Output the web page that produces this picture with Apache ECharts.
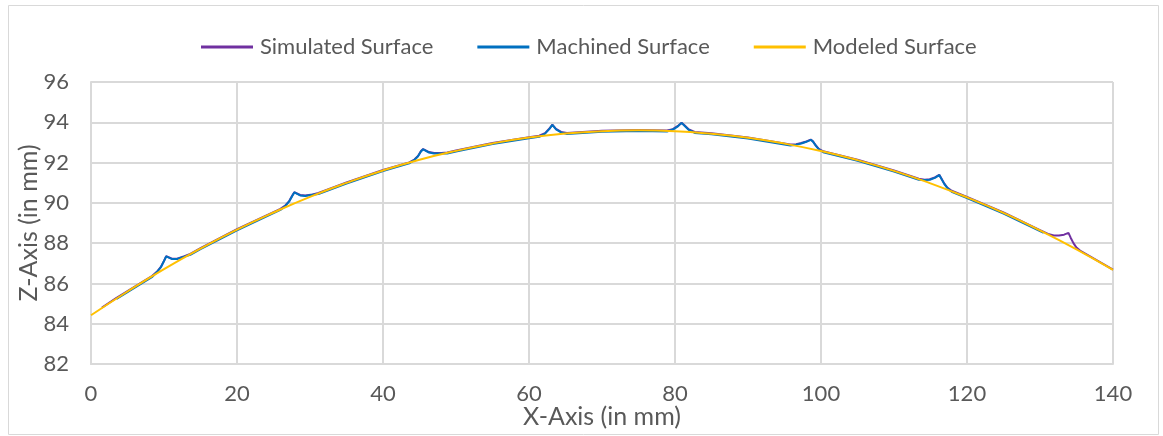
<!DOCTYPE html>
<html>
<head>
<meta charset="utf-8">
<script src="https://cdn.jsdelivr.net/npm/echarts@6/dist/echarts.min.js"></script>
<style>
html,body{margin:0;padding:0;background:#fff;}
#chart{width:1163px;height:436px;}
</style>
</head>
<body>
<div id="chart"></div>
<script>
var xTicks = [0, 20, 40, 60, 80, 100, 120, 140];
var yTicks = [82, 84, 86, 88, 90, 92, 94, 96];
var seriesNames = ['Simulated Surface', 'Machined Surface', 'Modeled Surface'];

var modeledX = [0, 5, 10, 15, 20, 25, 30, 35, 40, 45, 50, 55, 60, 65, 70, 75, 80, 85, 90, 95, 100, 105, 110, 115, 120, 125, 130, 135, 140];
var modeledZ = [84.42, 85.60, 86.71, 87.73, 88.67, 89.52, 90.30, 90.99, 91.61, 92.14, 92.58, 92.95, 93.24, 93.44, 93.56, 93.60, 93.56, 93.43, 93.23, 92.94, 92.57, 92.12, 91.59, 90.97, 90.27, 89.50, 88.63, 87.69, 86.67];

var machinedX = [3.5, 5, 7,
  8.4, 9.1, 9.6, 10.0, 10.3, 11.1, 11.8, 12.8, 13.6,
  15, 20,
  25.95, 26.65, 27.15, 27.55, 27.85, 28.65, 29.35, 30.35, 31.15,
  35, 40,
  43.6, 44.3, 44.8, 45.2, 45.5, 46.3, 47.0, 48.0, 48.8,
  50, 55, 60,
  61.4, 62.2, 62.8, 63.2, 63.7, 64.4, 65.2,
  70, 75,
  78.9, 79.7, 80.4, 80.9, 81.3, 81.9, 82.7,
  85, 90,
  95.8, 96.6, 97.3, 98.0, 98.6, 98.9, 99.3, 99.7, 100.3,
  105, 110,
  113.4, 114.2, 114.9, 115.6, 116.2, 116.5, 116.9, 117.3, 117.9,
  120, 125, 130.5];
var machinedZ = [85.23, 85.57, 86.02,
  86.33, 86.59, 86.82, 87.11, 87.34, 87.21, 87.21, 87.33, 87.42,
  87.70, 88.64,
  89.65, 89.86, 90.07, 90.33, 90.52, 90.37, 90.34, 90.40, 90.44,
  90.96, 91.58,
  91.96, 92.13, 92.31, 92.55, 92.66, 92.50, 92.45, 92.45, 92.45,
  92.55, 92.92, 93.21,
  93.28, 93.44, 93.67, 93.87, 93.65, 93.50, 93.42,
  93.53, 93.57,
  93.54, 93.64, 93.80, 93.97, 93.83, 93.62, 93.47,
  93.40, 93.20,
  92.85, 92.89, 92.95, 93.03, 93.13, 93.04, 92.83, 92.66, 92.51,
  92.09, 91.56,
  91.15, 91.13, 91.15, 91.24, 91.38, 91.19, 90.93, 90.74, 90.55,
  90.24, 89.47, 88.51];

var simulatedX = [1.5, 3.5, 5, 7,
  8.4, 9.1, 9.6, 10.0, 10.3, 11.1, 11.8, 12.8, 13.6,
  15, 20,
  25.95, 26.65, 27.15, 27.55, 27.85, 28.65, 29.35, 30.35, 31.15,
  35, 40,
  43.6, 44.3, 44.8, 45.2, 45.5, 46.3, 47.0, 48.0, 48.8,
  50, 55, 60,
  61.4, 62.2, 62.8, 63.2, 63.7, 64.4, 65.2,
  70, 75,
  78.9, 79.7, 80.4, 80.9, 81.3, 81.9, 82.7,
  85, 90,
  95.8, 96.6, 97.3, 98.0, 98.6, 98.9, 99.3, 99.7, 100.3,
  105, 110,
  113.4, 114.2, 114.9, 115.6, 116.2, 116.5, 116.9, 117.3, 117.9,
  120, 125, 130,
  131.1, 131.9, 132.6, 133.3, 133.9, 134.2, 134.6, 135.0, 135.6,
  140];
var simulatedZ = [84.80, 85.28, 85.62, 86.07,
  86.38, 86.61, 86.84, 87.12, 87.35, 87.23, 87.23, 87.35, 87.47,
  87.75, 88.69,
  89.70, 89.88, 90.09, 90.35, 90.53, 90.39, 90.36, 90.42, 90.49,
  91.01, 91.63,
  92.01, 92.15, 92.33, 92.57, 92.67, 92.52, 92.47, 92.47, 92.50,
  92.60, 92.97, 93.26,
  93.33, 93.46, 93.69, 93.88, 93.67, 93.52, 93.47,
  93.58, 93.62,
  93.59, 93.66, 93.82, 93.98, 93.85, 93.64, 93.52,
  93.45, 93.25,
  92.90, 92.91, 92.97, 93.05, 93.14, 93.06, 92.85, 92.68, 92.56,
  92.14, 91.61,
  91.20, 91.15, 91.17, 91.26, 91.39, 91.21, 90.95, 90.76, 90.60,
  90.29, 89.52, 88.65,
  88.46, 88.38, 88.38, 88.42, 88.51, 88.27, 87.99, 87.78, 87.60,
  86.69];

function pairs(xs, ys) {
  var out = [];
  for (var i = 0; i < xs.length; i++) out.push([xs[i], ys[i]]);
  return out;
}

var FONT = 'Lato';
var TXT = '#595959';
var chart = echarts.init(document.getElementById('chart'), null, {renderer: 'canvas'});
chart.setOption({
  animation: false,
  backgroundColor: '#ffffff',
  graphic: [{
    type: 'rect', left: 6, top: 3, silent: true, z: -10,
    shape: {width: 1150, height: 429},
    style: {fill: 'none', stroke: '#D9D9D9', lineWidth: 1}
  }],
  legend: {
    left: 196, top: 31,
    icon: 'rect', itemWidth: 52, itemHeight: 3, itemGap: 44,
    textStyle: {fontFamily: FONT, fontSize: 22, color: TXT, padding: [0, 0, 0, 2]},
    data: seriesNames
  },
  grid: {left: 91, right: 50, top: 82, bottom: 72, containLabel: false, outerBoundsMode: 'none'},
  xAxis: {
    type: 'value', min: xTicks[0], max: xTicks[xTicks.length - 1], interval: 20,
    name: 'X-Axis (in mm)', nameLocation: 'middle', nameGap: 40, nameMoveOverlap: false,
    nameTextStyle: {fontFamily: FONT, fontSize: 25, color: TXT},
    axisLine: {show: true, lineStyle: {color: '#D9D9D9', width: 2}},
    axisTick: {show: false},
    axisLabel: {fontFamily: FONT, fontSize: 22, color: TXT, margin: 19},
    splitLine: {show: true, lineStyle: {color: '#D9D9D9', width: 2}}
  },
  yAxis: {
    type: 'value', min: yTicks[0], max: yTicks[yTicks.length - 1], interval: 2,
    name: 'Z-Axis (in mm)', nameLocation: 'middle', nameGap: 50, nameRotate: 90, nameMoveOverlap: false,
    nameTextStyle: {fontFamily: FONT, fontSize: 25, color: TXT},
    axisLine: {show: true, lineStyle: {color: '#D9D9D9', width: 2}},
    axisTick: {show: false},
    axisLabel: {fontFamily: FONT, fontSize: 22, color: TXT, margin: 22},
    splitLine: {show: true, lineStyle: {color: '#D9D9D9', width: 2}}
  },
  series: [
    {name: seriesNames[0], type: 'line', data: pairs(simulatedX, simulatedZ), showSymbol: false, symbol: 'none',
      lineStyle: {color: '#7030A0', width: 2}, itemStyle: {color: '#7030A0'}, z: 2},
    {name: seriesNames[1], type: 'line', data: pairs(machinedX, machinedZ), showSymbol: false, symbol: 'none',
      lineStyle: {color: '#0070C0', width: 2}, itemStyle: {color: '#0070C0'}, z: 3},
    {name: seriesNames[2], type: 'line', data: pairs(modeledX, modeledZ), showSymbol: false, symbol: 'none', smooth: true,
      lineStyle: {color: '#FFC000', width: 2}, itemStyle: {color: '#FFC000'}, z: 4}
  ]
});
</script>
</body>
</html>
